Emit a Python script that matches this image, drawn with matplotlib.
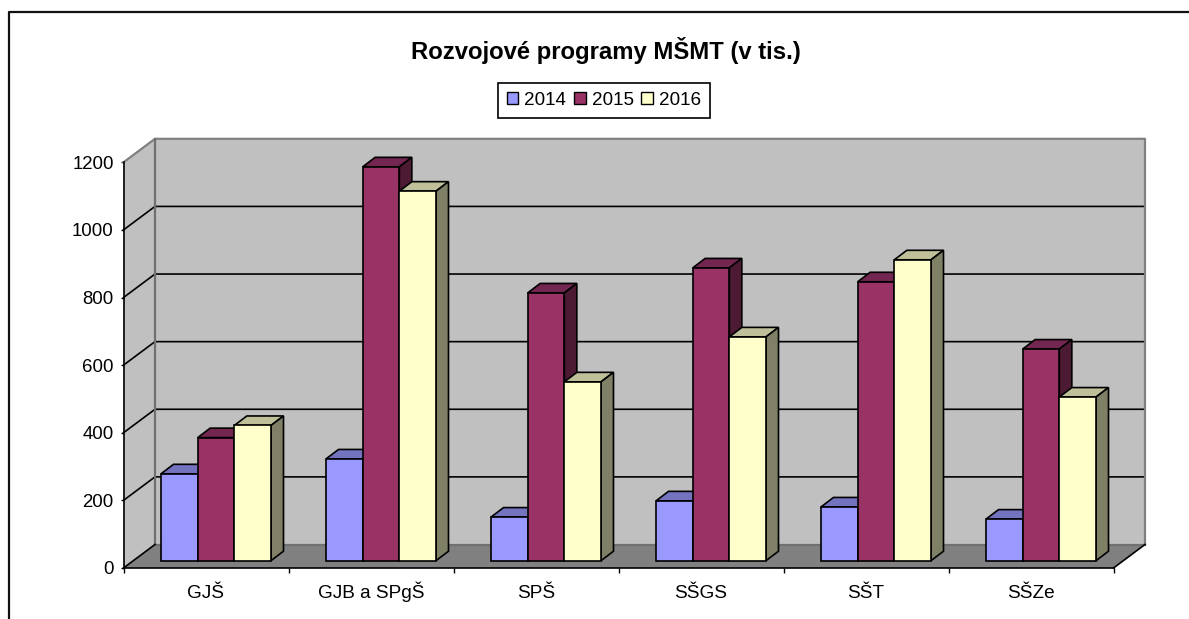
import matplotlib
matplotlib.use("Agg")
import matplotlib.pyplot as plt
from matplotlib.patches import Polygon, Patch
from matplotlib.transforms import Affine2D, IdentityTransform
from matplotlib.lines import Line2D

plt.rcParams['font.family'] = ['Liberation Sans', 'DejaVu Sans']

categories = ['GJŠ', 'GJB a SPgŠ', 'SPŠ', 'SŠGS', 'SŠT', 'SŠZe']
years = ['2014', '2015', '2016']
v2014 = [257, 301, 129, 177, 159, 123]
v2015 = [364, 1165, 792, 866, 825, 626]
v2016 = [400, 1093, 529, 662, 890, 484]
yticks = [0, 200, 400, 600, 800, 1000, 1200]

face = ['#9999FF', '#993366', '#FFFFCC']
top = ['#7373BF', '#732650', '#BFBF99']
side = ['#4D4D80', '#4D1A33', '#808066']

W, H = 1189, 619
fig = plt.figure(figsize=(W / 100, H / 100), dpi=100, facecolor='white')
ax = fig.add_axes([123.5 / W, (H - 568) / H, 990 / W, 405.7 / H])
ax.set_xlim(0, 6)
ax.set_ylim(0, 1200)
ax.patch.set_visible(False)

wall = ax.transData + Affine2D().translate(31.5, 23.5)
front = ax.transData + Affine2D().translate(10, 7.3)
px = IdentityTransform()


def to_px(x, y, tr):
    return tr.transform((x, y))


# walls and floor
p00 = to_px(0, 0, ax.transData)
p01 = to_px(0, 1200, ax.transData)
p60 = to_px(6, 0, ax.transData)
b00 = to_px(0, 0, wall)
b01 = to_px(0, 1200, wall)
b60 = to_px(6, 0, wall)
b61 = to_px(6, 1200, wall)
ax.add_patch(Polygon([p00, p01, b01, b00], closed=True, transform=px, fc='#C0C0C0',
                     ec='none', clip_on=False, zorder=1))
ax.add_patch(Polygon([b00, b01, b61, b60], closed=True, transform=px, fc='#C0C0C0',
                     ec='none', clip_on=False, zorder=1))
ax.add_patch(Polygon([p00, b00, b60, p60], closed=True, transform=px, fc='#808080',
                     ec='none', clip_on=False, zorder=1))
for t in yticks[1:-1]:
    a = to_px(0, t, ax.transData)
    b = to_px(0, t, wall)
    c = to_px(6, t, wall)
    ax.add_line(Line2D([a[0], b[0], c[0]], [a[1], b[1], c[1]], transform=px, color='black',
                       lw=1.2, clip_on=False, zorder=2))
grey = '#808080'
ax.add_line(Line2D([p01[0], b01[0], b61[0], b60[0]], [p01[1], b01[1], b61[1], b60[1]],
                   transform=px, color=grey, lw=1.6, clip_on=False, zorder=2))
ax.add_line(Line2D([b01[0], b00[0], b60[0]], [b01[1], b00[1], b60[1]],
                   transform=px, color='#707070', lw=1.6, clip_on=False, zorder=2))
ax.add_line(Line2D([p00[0], b00[0]], [p00[1], b00[1]], transform=px, color='black',
                   lw=1.2, clip_on=False, zorder=3))
ax.add_line(Line2D([p60[0], b60[0]], [p60[1], b60[1]], transform=px, color='black',
                   lw=1.2, clip_on=False, zorder=3))

# bars
dx, dy = 12.5, 9.5
bw = 0.2222
series = [v2014, v2015, v2016]
z = 4
for i in range(len(categories)):
    for s, vals in enumerate(series):
        x0 = i + 0.5 - 1.5 * bw + s * bw
        v = vals[i]
        tl = to_px(x0, v, front)
        tr = to_px(x0 + bw, v, front)
        br = to_px(x0 + bw, 0, front)
        d = (dx, dy)
        ax.add_patch(Polygon([tl, tr, tr + d, tl + d], closed=True, transform=px, fc=top[s],
                             ec='black', lw=1.2, joinstyle='miter', clip_on=False, zorder=z))
        ax.add_patch(Polygon([br, tr, tr + d, br + d], closed=True, transform=px, fc=side[s],
                             ec='black', lw=1.2, joinstyle='miter', clip_on=False, zorder=z))
        ax.bar(x0, v, bw, align='edge', color=face[s], edgecolor='black', lw=1.2, transform=front,
               clip_on=False, zorder=z + 0.5)
        z += 1

# axes
for name in ('top', 'right'):
    ax.spines[name].set_visible(False)
for name in ('left', 'bottom'):
    ax.spines[name].set_linewidth(1.2)
    ax.spines[name].set_zorder(100)
ax.set_yticks(yticks)
ax.set_xticks(range(7))
ax.set_xticklabels([])
ax.set_xticks([i + 0.5 for i in range(6)], minor=True)
ax.set_xticklabels(categories, minor=True, fontsize=13.7, color='black', va='baseline')
ax.tick_params(axis='x', which='major', length=3.6, width=1.0)
ax.tick_params(axis='x', which='minor', length=0, pad=21.6)
ax.tick_params(axis='y', length=2.4, width=1.0, labelsize=13.4, pad=4.6)

# title, legend, frame
fig.text(605.5 / W, 1 - 50.5 / H, 'Rozvojové programy MŠMT (v tis.)', ha='center', va='center',
         fontsize=17.2, fontweight='bold')
handles = [Patch(fc=face[s], ec='black', lw=1) for s in range(3)]
leg = fig.legend(handles, years, ncol=3, loc='center', bbox_to_anchor=(604 / W, 1 - 100.5 / H),
                 fontsize=13.6, frameon=True, fancybox=False, framealpha=1, edgecolor='black',
                 handlelength=0.6, handleheight=0.6, handletextpad=0.32, columnspacing=0.42,
                 borderpad=0.48, borderaxespad=0)
leg.get_frame().set_linewidth(1.2)

fig.add_artist(Line2D([8.5 / W, 8.5 / W, 1], [0, 1 - 11.5 / H, 1 - 11.5 / H], color='#111111', lw=1.6))

fig.savefig('out.png', dpi=100)
